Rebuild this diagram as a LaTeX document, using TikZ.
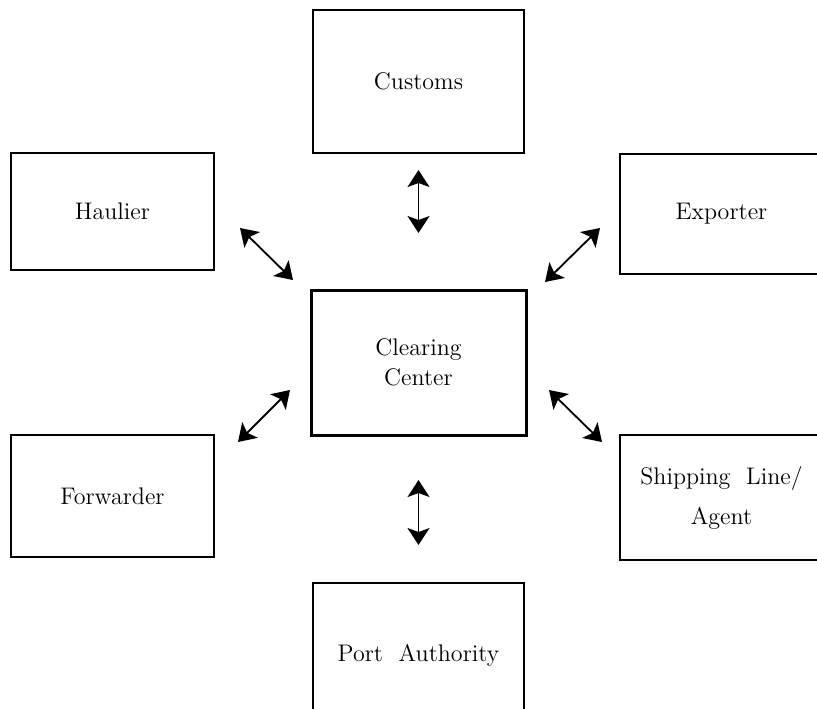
\documentclass[tikz,border=0pt]{standalone}
\usepackage{tikz}
\usetikzlibrary{calc}
\usetikzlibrary{positioning}
\usetikzlibrary{arrows.meta}

\tikzset{
  party/.style={draw, line width=.7pt, inner sep=0pt, outer sep=0pt,
    align=center, font=\fontsize{12}{15}\selectfont},
  hub/.style={party, line width=1.5pt},
  link/.style={<->, line width=.9pt,
    >={Stealth[length=8.5pt, width=11pt, inset=2pt]}}
}

\begin{document}
\begin{tikzpicture}[x=.5pt, y=-.5pt]
          \useasboundingbox (0,0) rectangle (817,708);
          \clip (0,0) rectangle (817,708);
          % centre column
          \node [party, minimum width=105.5pt, minimum height=71.5pt] (customs) at (418.5,81.5) {Customs};
          \node [hub, minimum width=107.5pt, minimum height=72.5pt] (clearing) at (418.5,362.5) {Clearing\\Center};
          \node [party, minimum width=105.5pt, minimum height=72.5pt] (port) at (418.5,655.5) {Port\ \ Authority};
          % left and right
          \node [party, minimum width=101.5pt, minimum height=58.5pt] (haulier) at (112.5,211.5) {Haulier};
          \node [party, minimum width=101.5pt, minimum height=61pt] (forwarder) at (112.5,496) {Forwarder};
          \node [party, minimum width=101.5pt, minimum height=60pt] (exporter) at (721.5,214) {Exporter};
          \node [party, minimum width=101.5pt, minimum height=62.5pt] (shipping) at (721.5,497.5) {Shipping\ \ Line/\\[5pt]Agent};
          % links to the clearing center
          \draw [link] ([shift={(0,17)}]customs.south) -- ([shift={(0,-57)}]clearing.north);
          \draw [link] ([shift={(0,45)}]clearing.south) -- ([shift={(0,-38)}]port.north);
          \draw [link] ([shift={(26,16.5)}]haulier.east) -- ([shift={(-18,-10)}]clearing.north west);
          \draw [link] ([shift={(-20,14)}]exporter.west) -- ([shift={(19,-8)}]clearing.north east);
          \draw [link] ([shift={(-21,27.5)}]clearing.west) -- ([shift={(24,7)}]forwarder.north east);
          \draw [link] ([shift={(23,27.5)}]clearing.east) -- ([shift={(-18,7)}]shipping.north west);
        \end{tikzpicture}
\end{document}
